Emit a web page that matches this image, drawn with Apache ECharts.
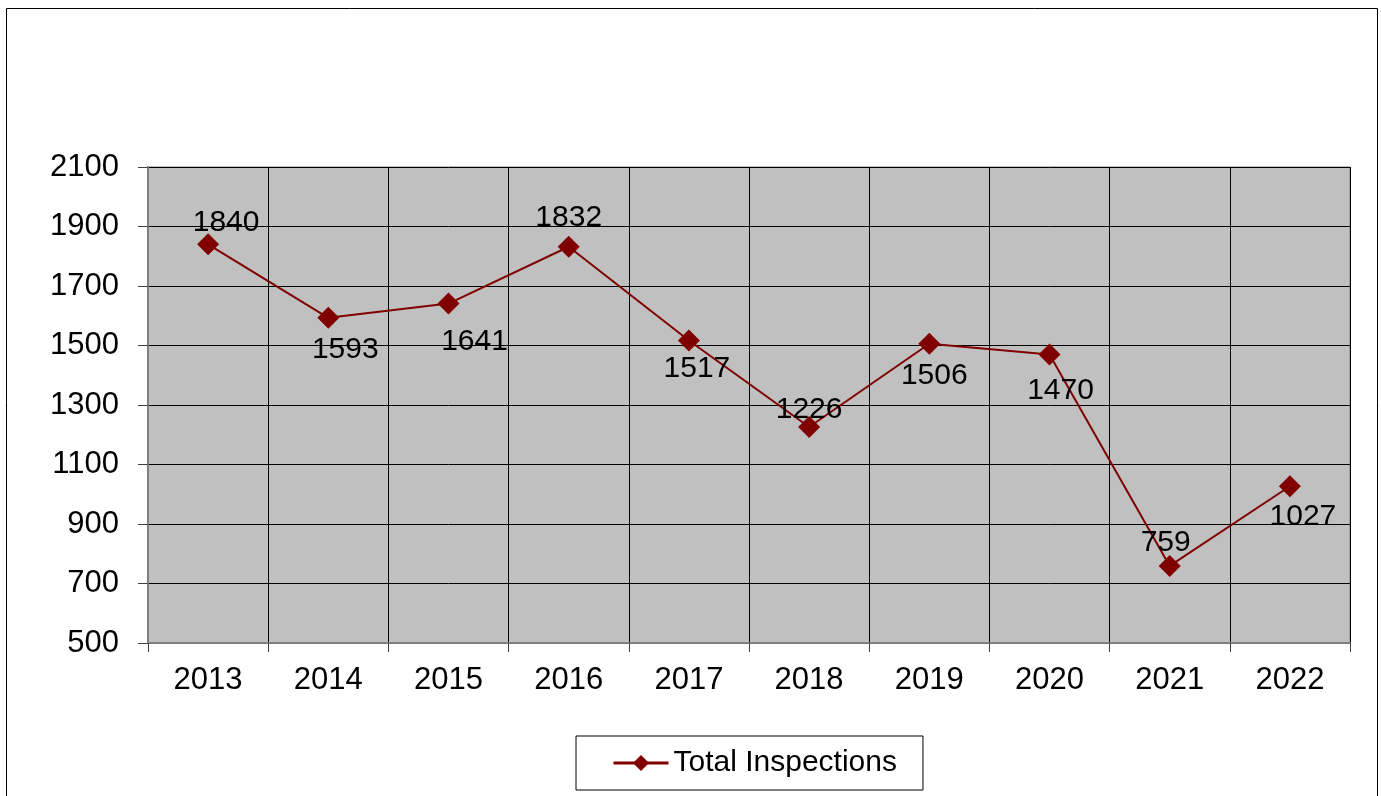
<!DOCTYPE html>
<html>
<head>
<meta charset="utf-8">
<script src="https://cdn.jsdelivr.net/npm/echarts@6/dist/echarts.min.js"></script>
<style>
  html, body { margin: 0; padding: 0; background: #fff; }
  #main { width: 1381px; height: 796px; }
</style>
</head>
<body>
<div id="main"></div>
<script>
// data
var years = ['2013', '2014', '2015', '2016', '2017', '2018', '2019', '2020', '2021', '2022'];
var inspections = [1840, 1593, 1641, 1832, 1517, 1226, 1506, 1470, 759, 1027];
var yTicks = [500, 700, 900, 1100, 1300, 1500, 1700, 1900, 2100];

// where each value label sits relative to its point
var labelShift = [[18, -22], [17, 32], [26, 38], [0, -29], [8, 28], [0, -17], [5, 32], [11, 36], [-4, -23], [13, 31]];

var font = 'Liberation Sans, Arial, sans-serif';
var red = '#800000';

var chart = echarts.init(document.getElementById('main'));

var points = inspections.map(function (v, i) {
    return {
        value: v,
        label: { offset: labelShift[i] }
    };
});

chart.setOption({
    animation: false,
    textStyle: { fontFamily: font },
    graphic: [{
        type: 'rect',
        shape: { x: 6.5, y: 8.5, width: 1371, height: 820 },
        style: { fill: null, stroke: '#000', lineWidth: 1 },
        silent: true
    }],
    grid: {
        left: 148, right: 31, top: 167, bottom: 153,
        show: true,
        backgroundColor: '#c0c0c0',
        borderColor: '#808080',
        borderWidth: 1
    },
    legend: {
        bottom: 6,
        left: 576,
        padding: [12, 26, 12, 36],
        borderColor: '#000',
        borderWidth: 1,
        itemWidth: 55,
        itemHeight: 20,
        lineStyle: { width: 3 },
        textStyle: { fontSize: 30, color: '#000', fontFamily: font },
        data: ['Total Inspections']
    },
    xAxis: {
        type: 'category',
        data: years,
        boundaryGap: true,
        axisLine: { lineStyle: { color: '#808080', width: 2 } },
        axisTick: { show: true, length: 9, lineStyle: { color: '#404040' } },
        axisLabel: { fontSize: 31, color: '#000', margin: 22, fontFamily: font },
        splitLine: { show: true, lineStyle: { color: '#000', width: 1 } }
    },
    yAxis: {
        type: 'value',
        min: yTicks[0],
        max: yTicks[yTicks.length - 1],
        interval: 200,
        axisLine: { show: true, lineStyle: { color: '#808080', width: 2 } },
        axisTick: { show: true, length: 10, lineStyle: { color: '#404040' } },
        axisLabel: {
            fontSize: 31, color: '#000', margin: 29, fontFamily: font,
            formatter: function (v) { return String(v); }
        },
        splitLine: { show: true, lineStyle: { color: '#000', width: 1 } }
    },
    series: [{
        name: 'Total Inspections',
        type: 'line',
        data: points,
        symbol: 'diamond',
        symbolSize: 22,
        itemStyle: { color: red },
        lineStyle: { color: red, width: 2 },
        label: {
            show: true,
            position: 'inside',
            fontSize: 30,
            color: '#000',
            fontFamily: font
        }
    }]
});
</script>
</body>
</html>
